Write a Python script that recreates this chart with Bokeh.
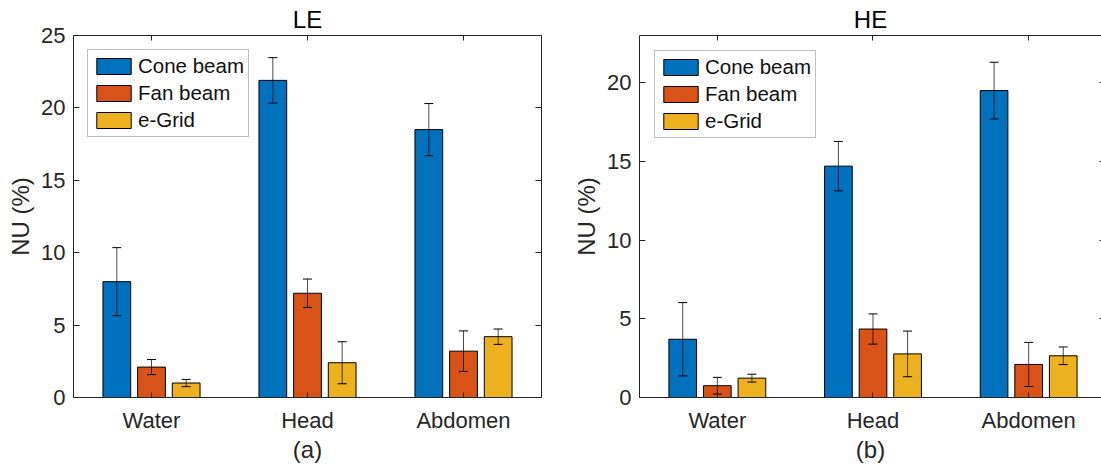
import numpy as np
from bokeh.plotting import figure
from bokeh.layouts import row
from bokeh.models import (Range1d, FixedTicker, LinearAxis, ColumnDataSource,
                          Whisker, TeeHead)
from bokeh.embed import file_html
from bokeh.resources import INLINE

# ---------------- data ----------------
categories = ["Water", "Head", "Abdomen"]
series = ["Cone beam", "Fan beam", "e-Grid"]
colors = ["#0072BD", "#D95319", "#EDB120"]

le_cone = [8.0, 21.9, 18.5]
le_cone_err = [2.35, 1.57, 1.8]
le_fan = [2.1, 7.2, 3.2]
le_fan_err = [0.52, 0.98, 1.4]
le_egrid = [1.0, 2.4, 4.2]
le_egrid_err = [0.25, 1.45, 0.53]

he_cone = [3.7, 14.7, 19.5]
he_cone_err = [2.33, 1.57, 1.8]
he_fan = [0.75, 4.35, 2.1]
he_fan_err = [0.53, 0.96, 1.4]
he_egrid = [1.23, 2.77, 2.65]
he_egrid_err = [0.25, 1.45, 0.56]

le_yticks = [0, 5, 10, 15, 20, 25]
he_yticks = [0, 5, 10, 15, 20]

FONT = "Liberation Sans"
AX = "#262626"
H = 465
BT, BB = 35, 68


def make_panel(title, sub, vals, errs, ymax, yticks, width, bl, br, x_end,
               leg_margin, right_axis_line=True, right_tick=6, title_offset=0):
    p = figure(width=width, height=H, x_range=Range1d(0.5, x_end),
               y_range=Range1d(0, ymax), output_backend="svg",
               toolbar_location=None, min_border_left=bl, min_border_right=br,
               min_border_top=BT, min_border_bottom=BB)
    p.outline_line_color = None
    p.grid.visible = False
    p.background_fill_color = "white"
    p.border_fill_color = "white"

    p.title.text = title
    p.title.align = "center"
    p.title.text_font = FONT
    p.title.text_font_size = "24px"
    p.title.text_font_style = "normal"
    p.title.text_color = "#000000"
    p.title.standoff = 6
    p.title.offset = title_offset

    n = len(series)
    gw = min(0.8, n / (n + 1.5))
    bw = gw / n * 0.8
    idx = np.arange(1, len(categories) + 1)
    for i, (s, c) in enumerate(zip(series, colors)):
        off = (i - (n - 1) / 2) * gw / n
        xs = idx + off
        v = np.array(vals[i])
        e = np.array(errs[i])
        src = ColumnDataSource(dict(x=xs, top=v, upper=v + e, lower=v - e))
        p.vbar(x="x", top="top", bottom=0, width=bw, source=src,
               fill_color=c, line_color="black", line_width=1,
               legend_label=s)
        w = Whisker(source=src, base="x", upper="upper", lower="lower",
                    line_color="black", line_width=1, line_alpha=0.7,
                    upper_head=TeeHead(size=9, line_color="black", line_width=1),
                    lower_head=TeeHead(size=9, line_color="black", line_width=1),
                    level="annotation")
        p.add_layout(w)

    xt = FixedTicker(ticks=list(idx))
    # bottom axis
    xa = p.xaxis[0]
    xa.ticker = xt
    xa.major_label_overrides = {int(k): c for k, c in zip(idx, categories)}
    xa.axis_label = sub
    xa.axis_label_text_font = FONT
    xa.axis_label_text_font_size = "24px"
    xa.axis_label_text_font_style = "normal"
    xa.axis_label_text_color = AX
    xa.axis_label_standoff = 0
    # left axis
    ya = p.yaxis[0]
    ya.ticker = FixedTicker(ticks=yticks)
    ya.axis_label = "NU (%)"
    ya.axis_label_text_font = FONT
    ya.axis_label_text_font_size = "24px"
    ya.axis_label_text_font_style = "normal"
    ya.axis_label_text_color = AX
    ya.axis_label_standoff = 4
    ya.major_label_standoff = 8

    top = LinearAxis(ticker=xt)
    p.add_layout(top, "above")
    rgt = LinearAxis(ticker=FixedTicker(ticks=yticks))
    p.add_layout(rgt, "right")

    for ax in [xa, ya, top, rgt]:
        ax.axis_line_color = AX
        ax.axis_line_width = 1
        ax.major_tick_out = 0
        ax.minor_tick_in = 0
        ax.minor_tick_out = 0
        ax.major_tick_line_color = AX
        ax.major_tick_line_width = 1
        ax.major_label_text_font = FONT
        ax.major_label_text_font_size = "22px"
        ax.major_label_text_color = AX
    xa.major_tick_in = 5
    xa.major_label_standoff = 10
    ya.major_tick_in = 6
    top.major_tick_in = 5
    rgt.major_tick_in = right_tick
    for ax in [top, rgt]:
        ax.major_label_text_font_size = "0px"
        ax.major_label_text_color = None
        ax.major_label_standoff = 0
    if not right_axis_line:
        rgt.axis_line_color = None

    lg = p.legend[0]
    lg.location = "top_left"
    lg.margin = leg_margin
    lg.padding = 4
    lg.spacing = 3
    lg.glyph_width = 43
    lg.glyph_height = 20
    lg.label_height = 20
    lg.label_standoff = 3
    lg.label_text_font = FONT
    lg.label_text_font_size = "20.5px"
    lg.label_text_color = "#111111"
    lg.border_line_color = "#7f7f7f"
    lg.border_line_width = 1
    lg.background_fill_alpha = 1.0
    return p


p1 = make_panel("LE", "(a)", [le_cone, le_fan, le_egrid],
                [le_cone_err, le_fan_err, le_egrid_err], 25, le_yticks,
                width=570, bl=73, br=29, x_end=3.5, leg_margin=14)
p2 = make_panel("HE", "(b)", [he_cone, he_fan, he_egrid],
                [he_cone_err, he_fan_err, he_egrid_err], 23, he_yticks,
                width=531, bl=68, br=0, x_end=0.5 + 463 / 156,
                leg_margin=15, right_axis_line=False, right_tick=2,
                title_offset=2)

layout = row(p1, p2)
open("out.html", "w").write(file_html(layout, INLINE, title="NU"))
